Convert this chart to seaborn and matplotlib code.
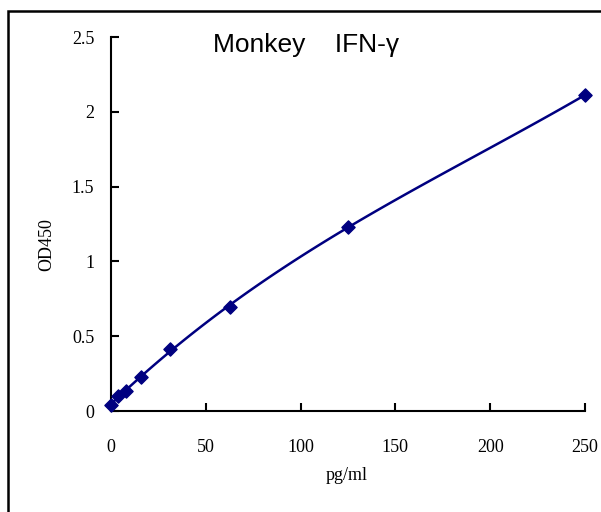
import numpy as np
import pandas as pd
import matplotlib
matplotlib.use('Agg')
import matplotlib.pyplot as plt
import seaborn as sns
from matplotlib.patches import Rectangle

conc = [0, 3.9, 7.8, 15.6, 31.25, 62.5, 125, 250]
od = [0.04, 0.10, 0.134, 0.227, 0.414, 0.695, 1.23, 2.112]
xticks = [0, 50, 100, 150, 200, 250]
yticks = [0, 0.5, 1, 1.5, 2, 2.5]
ylabels = ['0', '0.5', '1', '1.5', '2', '2.5']

df = pd.DataFrame({'pg/ml': conc, 'OD450': od})

sns.set_style('ticks')
plt.rcParams['font.family'] = ['Liberation Serif', 'DejaVu Sans']
plt.rcParams['text.color'] = 'black'

fig = plt.figure(figsize=(6.01, 5.12), dpi=100)
ax = fig.add_axes([111/601, 1-411/512, (585-111)/601, (411-37)/512])

navy = '#000080'
# standard curve: 3rd order fit through the points
sns.regplot(x='pg/ml', y='OD450', data=df, order=3, ci=None, ax=ax,
            color=navy, marker='D',
            scatter_kws={'s': 45, 'color': navy, 'alpha': 1, 'zorder': 3},
            line_kws={'lw': 1.8, 'color': navy})

ax.set_xlim(0, 250)
ax.set_ylim(0, 2.5)
ax.set_xticks(xticks)
ax.set_yticks(yticks)
ax.set_yticklabels(ylabels)
ax.tick_params(direction='in', length=6, width=1.5, labelsize=13, colors='black')
ax.tick_params(axis='x', pad=20)
ax.tick_params(axis='y', pad=12)
for s in ['top', 'right']:
    ax.spines[s].set_visible(False)
for s in ['left', 'bottom']:
    ax.spines[s].set_linewidth(1.5)
    ax.spines[s].set_color('black')
ax.set_xlabel('')
ax.set_ylabel('')
ax.grid(False)
for c in ax.collections:
    c.set_clip_on(False)

fig.text(47/601, 1-245/512, 'OD450', rotation=90, ha='center', va='center', fontsize=13)
fig.text(347/601, 1-476/512, 'pg/ml', ha='center', va='center', fontsize=13)
fig.text(306/601, 1-45/512, 'Monkey    IFN-\u03b3', ha='center', va='center',
         fontsize=19, family=['Liberation Sans', 'DejaVu Sans'])

fig.patches.append(Rectangle((8/601, -0.1), 1.2, 1.1 - 11/512,
                             transform=fig.transFigure, fill=False,
                             edgecolor='black', lw=1.8))

fig.savefig('out.png', dpi=100)
